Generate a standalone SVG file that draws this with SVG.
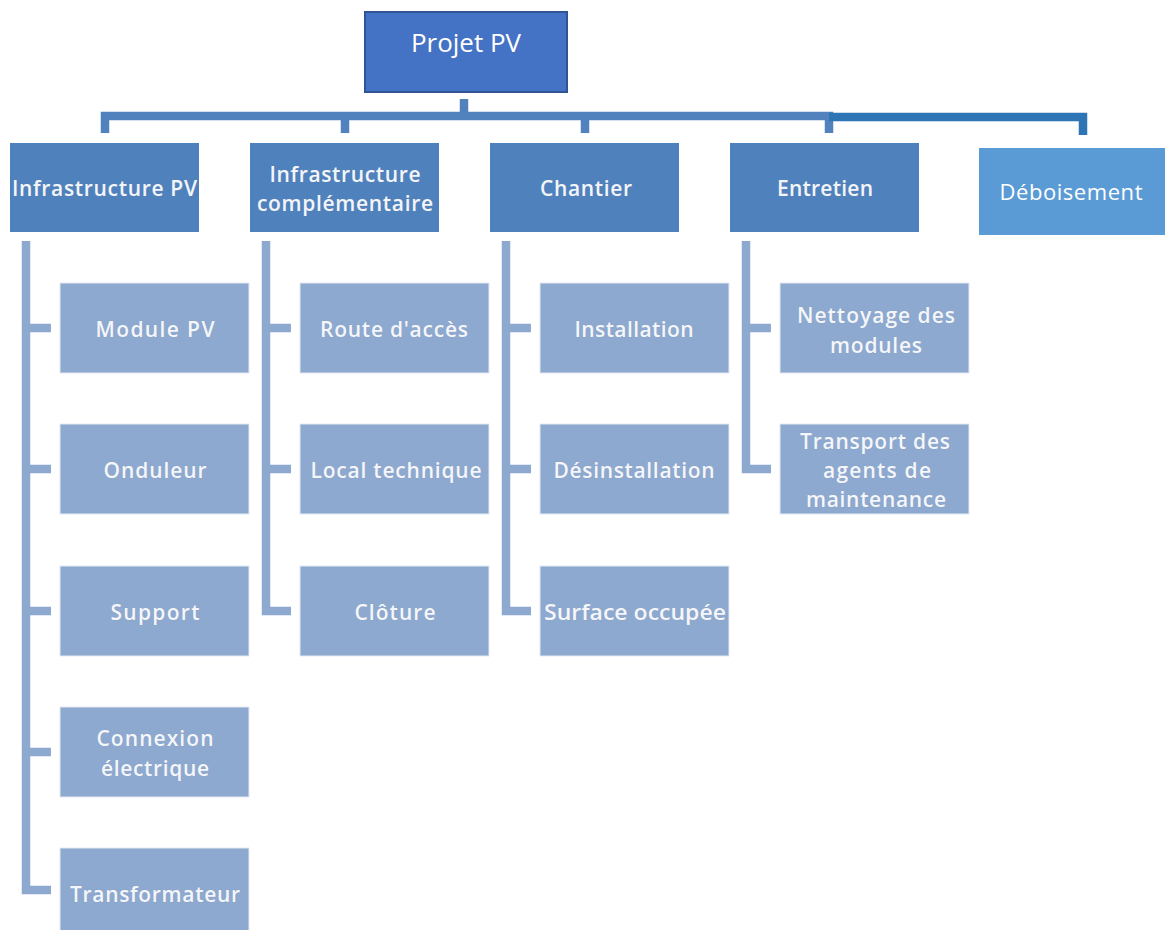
<svg xmlns="http://www.w3.org/2000/svg" width="1168" height="930" viewBox="0 0 1168 930">
<style>
.root{fill:#4472C4;stroke:#2F5597;stroke-width:2}
.l1{fill:#4F81BD}
.deb{fill:#5B9BD5}
.ch{fill:#8EA9CF;stroke:#E3E9F2;stroke-width:1}
.t{font-family:"Open Sans","Liberation Sans",sans-serif;text-anchor:middle}
.tw{fill:#FFFFFF;font-size:26px}
.t1{fill:#F2F5FA;font-size:21px;font-weight:600;stroke:#6F86A8;stroke-width:0.6;stroke-opacity:0.5;paint-order:stroke}
.t2{fill:#F4F6FA;font-size:21px;font-weight:600;stroke:#7D93B5;stroke-width:0.6;stroke-opacity:0.5;paint-order:stroke}
.cn{fill:none;stroke:#5282BE;stroke-width:8.5;stroke-linejoin:miter;stroke-linecap:butt}
.cd{fill:none;stroke:#2E75B6;stroke-width:8.5;stroke-linecap:butt}
.cc{fill:none;stroke:#8EA9CF;stroke-width:8.5;stroke-linecap:butt}
</style>
<rect width="1168" height="930" fill="#FFFFFF"/>
<g id="connectors">
<path class="cn" d="M464 99 V116"/>
<path class="cn" d="M105 133 V116 H829 V133"/>
<path class="cn" d="M345 116 V133"/>
<path class="cn" d="M585 116 V133"/>
<path class="cd" d="M829 117 H1083 V135"/>
<path class="cc" d="M26 241 V890 H51"/>
<path class="cc" d="M26 328 H51 M26 469 H51 M26 611 H51 M26 752 H51"/>
<path class="cc" d="M266 241 V611 H291 M266 328 H291 M266 469 H291"/>
<path class="cc" d="M506 241 V611 H531 M506 328 H531 M506 469 H531"/>
<path class="cc" d="M746 241 V469 H771 M746 328 H771"/>
</g>
<g id="projet-pv">
<rect class="root" x="365" y="12" width="202" height="80"/>
<text class="t tw" x="466" y="52" textLength="110" lengthAdjust="spacingAndGlyphs">Projet PV</text>
</g>
<g id="infrastructure-pv">
<rect class="l1" x="10" y="143" width="189" height="89"/>
<text class="t t1" x="104.5" y="196" textLength="185" lengthAdjust="spacing">Infrastructure PV</text>
</g>
<g id="infrastructure-complementaire">
<rect class="l1" x="250" y="143" width="189" height="89"/>
<text class="t t1" x="345" y="182" textLength="151" lengthAdjust="spacing">Infrastructure</text>
<text class="t t1" x="345" y="211" textLength="176" lengthAdjust="spacing">complémentaire</text>
</g>
<g id="chantier">
<rect class="l1" x="490" y="143" width="189" height="89"/>
<text class="t t1" x="586" y="196" textLength="92" lengthAdjust="spacing">Chantier</text>
</g>
<g id="entretien">
<rect class="l1" x="730" y="143" width="189" height="89"/>
<text class="t t1" x="825" y="196" textLength="96" lengthAdjust="spacing">Entretien</text>
</g>
<g id="deboisement">
<rect class="deb" x="979" y="148" width="186" height="87"/>
<text class="t" x="1071" y="200" font-size="22" fill="#FFFFFF" textLength="143" lengthAdjust="spacing">Déboisement</text>
</g>
<g id="module-pv">
<rect class="ch" x="60" y="283" width="189" height="90"/>
<text class="t t2" x="155" y="337" textLength="119" lengthAdjust="spacing">Module PV</text>
</g>
<g id="onduleur">
<rect class="ch" x="60" y="424" width="189" height="90"/>
<text class="t t2" x="155" y="478" textLength="103" lengthAdjust="spacing">Onduleur</text>
</g>
<g id="support">
<rect class="ch" x="60" y="566" width="189" height="90"/>
<text class="t t2" x="155" y="620" textLength="89" lengthAdjust="spacing">Support</text>
</g>
<g id="connexion-electrique">
<rect class="ch" x="60" y="707" width="189" height="90"/>
<text class="t t2" x="155" y="746" textLength="117" lengthAdjust="spacing">Connexion</text>
<text class="t t2" x="155" y="776" textLength="108" lengthAdjust="spacing">électrique</text>
</g>
<g id="transformateur">
<rect class="ch" x="60" y="848" width="189" height="90"/>
<text class="t t2" x="155" y="902" textLength="170" lengthAdjust="spacing">Transformateur</text>
</g>
<g id="route-acces">
<rect class="ch" x="300" y="283" width="189" height="90"/>
<text class="t t2" x="394" y="337" textLength="148" lengthAdjust="spacing">Route d'accès</text>
</g>
<g id="local-technique">
<rect class="ch" x="300" y="424" width="189" height="90"/>
<text class="t t2" x="396" y="478" textLength="171" lengthAdjust="spacing">Local technique</text>
</g>
<g id="cloture">
<rect class="ch" x="300" y="566" width="189" height="90"/>
<text class="t t2" x="395" y="620" textLength="81" lengthAdjust="spacing">Clôture</text>
</g>
<g id="installation">
<rect class="ch" x="540" y="283" width="189" height="90"/>
<text class="t t2" x="634" y="337" textLength="119" lengthAdjust="spacing">Installation</text>
</g>
<g id="desinstallation">
<rect class="ch" x="540" y="424" width="189" height="90"/>
<text class="t t2" x="634" y="478" textLength="161" lengthAdjust="spacing">Désinstallation</text>
</g>
<g id="surface-occupee">
<rect class="ch" x="540" y="566" width="189" height="90"/>
<text class="t t2" x="635" y="620" textLength="182" lengthAdjust="spacingAndGlyphs">Surface occupée</text>
</g>
<g id="nettoyage-modules">
<rect class="ch" x="780" y="283" width="189" height="90"/>
<text class="t t2" x="876" y="323" textLength="158" lengthAdjust="spacing">Nettoyage des</text>
<text class="t t2" x="876" y="353" textLength="92" lengthAdjust="spacing">modules</text>
</g>
<g id="transport-agents">
<rect class="ch" x="780" y="424" width="189" height="90"/>
<text class="t t2" x="875" y="449" textLength="150" lengthAdjust="spacing">Transport des</text>
<text class="t t2" x="877" y="478" textLength="108" lengthAdjust="spacing">agents de</text>
<text class="t t2" x="876" y="507" textLength="140" lengthAdjust="spacing">maintenance</text>
</g>
</svg>
